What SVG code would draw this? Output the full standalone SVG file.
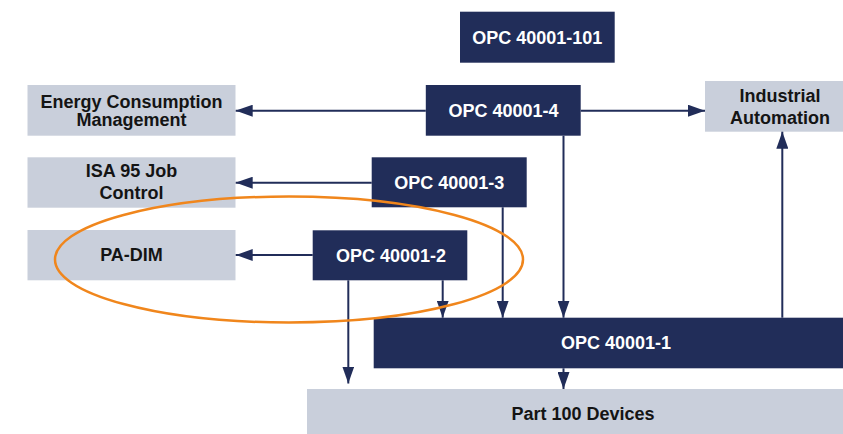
<svg xmlns="http://www.w3.org/2000/svg" width="843" height="434" viewBox="0 0 843 434">
  <style>
    .dark { fill: #212d59; }
    .light { fill: #c9cfdb; }
    text { font-family: "Liberation Sans", Arial, Helvetica, sans-serif; font-weight: bold; font-size: 18px; text-anchor: middle; }
    .dark-label { fill: #ffffff; }
    .light-label { fill: #141414; }
    .conn { stroke: #212d59; stroke-width: 2; fill: none; marker-end: url(#arrow); }
    .focus { fill: none; stroke: #f0861c; stroke-width: 2.5; }
  </style>
  <defs>
    <marker id="arrow" viewBox="0 0 17 12" markerWidth="17" markerHeight="12" refX="17" refY="6" markerUnits="userSpaceOnUse" orient="auto">
      <path d="M0,0 L17,6 L0,12 z" fill="#212d59"/>
    </marker>
  </defs>
  <rect width="843" height="434" fill="#ffffff"/>

  <!-- application areas -->
  <g id="energy">
    <rect class="light" x="27.5" y="85" width="208" height="50.7"/>
    <text class="light-label" x="131.5" y="107.7">Energy Consumption</text>
    <text class="light-label" x="131.5" y="125.7">Management</text>
  </g>
  <g id="isa95">
    <rect class="light" x="27.5" y="157.3" width="208" height="50.4"/>
    <text class="light-label" x="131.5" y="177.3">ISA 95 Job</text>
    <text class="light-label" x="131.5" y="199.3">Control</text>
  </g>
  <g id="padim">
    <rect class="light" x="27.5" y="230" width="208" height="50.3"/>
    <text class="light-label" x="131.5" y="261.4">PA-DIM</text>
  </g>
  <g id="industrial">
    <rect class="light" x="705" y="81" width="138" height="50.7"/>
    <text class="light-label" x="780" y="101.7">Industrial</text>
    <text class="light-label" x="780" y="124.3">Automation</text>
  </g>
  <g id="part100">
    <rect class="light" x="307" y="389" width="536" height="45"/>
    <text class="light-label" x="583" y="420">Part 100 Devices</text>
  </g>

  <!-- companion specifications -->
  <g id="opc101">
    <rect class="dark" x="460" y="11.7" width="154.7" height="51"/>
    <text class="dark-label" x="537.3" y="44">OPC 40001-101</text>
  </g>
  <g id="opc4">
    <rect class="dark" x="425.8" y="85" width="154.9" height="50.7"/>
    <text class="dark-label" x="503.5" y="116.7">OPC 40001-4</text>
  </g>
  <g id="opc3">
    <rect class="dark" x="371.7" y="157.3" width="155" height="50"/>
    <text class="dark-label" x="449.2" y="188.7">OPC 40001-3</text>
  </g>
  <g id="opc2">
    <rect class="dark" x="312.7" y="230.3" width="154.6" height="50"/>
    <text class="dark-label" x="391" y="261.5">OPC 40001-2</text>
  </g>
  <g id="opc1">
    <rect class="dark" x="373.7" y="317.7" width="469.3" height="50.6"/>
    <text class="dark-label" x="616" y="349.3">OPC 40001-1</text>
  </g>

  <!-- connectors -->
  <g id="connectors">
    <line class="conn" x1="425.8" y1="110.7" x2="235.7" y2="110.7"/>
    <line class="conn" x1="580.7" y1="110.7" x2="705" y2="110.7"/>
    <line class="conn" x1="371.7" y1="182.7" x2="235.7" y2="182.7"/>
    <line class="conn" x1="312.7" y1="255" x2="235.7" y2="255"/>
    <line class="conn" x1="563.5" y1="135.7" x2="563.5" y2="317.7"/>
    <line class="conn" x1="502.7" y1="207.3" x2="502.7" y2="317.7"/>
    <line class="conn" x1="442.7" y1="280.3" x2="442.7" y2="317.7"/>
    <line class="conn" x1="348.3" y1="280.3" x2="348.3" y2="383.5"/>
    <line class="conn" x1="563.5" y1="368.3" x2="563.5" y2="389"/>
    <line class="conn" x1="782.3" y1="317.7" x2="782.3" y2="131.7"/>
  </g>

  <!-- highlight around PA-DIM -->
  <g id="highlight">
    <ellipse class="focus" cx="289" cy="259.5" rx="234" ry="63"/>
  </g>
</svg>
